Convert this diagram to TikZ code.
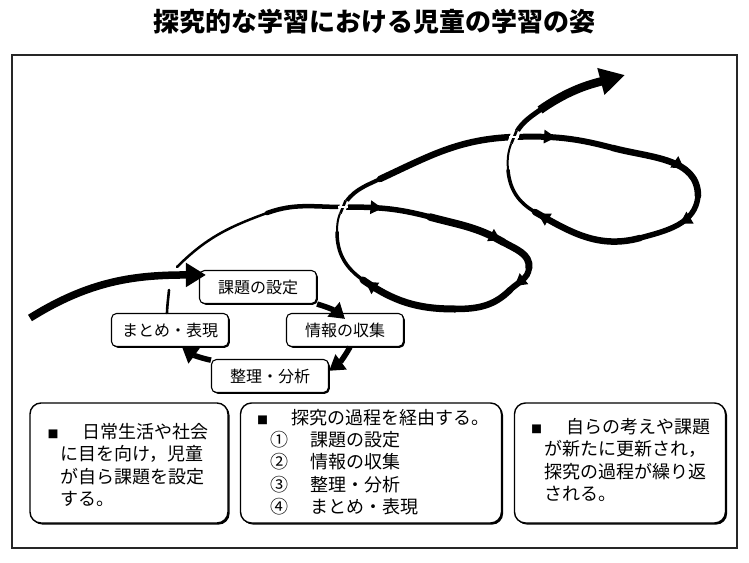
\documentclass[tikz,border=0pt]{standalone}
\usepackage{fontspec}
\setmainfont{Noto Sans CJK JP}
\usetikzlibrary{arrows.meta,decorations.markings,shadows}

\tikzset{
  cyclebox/.style={draw, fill=white, rounded corners=5pt, line width=1.1pt,
    minimum width=117pt, minimum height=33pt, inner sep=0pt,
    font=\fontsize{16}{16}\selectfont,
    drop shadow={shadow xshift=1.3pt, shadow yshift=-1.3pt, fill=black, opacity=1}},
  infobox/.style={draw, fill=white, rounded corners=11pt, line width=1.4pt,
    minimum height=120pt, inner sep=0pt,
    drop shadow={shadow xshift=1.6pt, shadow yshift=-1.6pt, fill=black, opacity=1}},
  infotext/.style={anchor=west, align=left, inner sep=0pt,
    font=\fontsize{18}{22.3}\selectfont},
  cyclearrow/.style={line width=5.5pt, -{Triangle[length=15pt,width=18pt]}},
  loopline/.style={line cap=round},
  barb/.style={postaction={decorate, decoration={markings,
    mark=at position #1 with {\arrow{Triangle[length=12pt,width=13pt]}}}}},
}
\newcommand{\boxmark}{\llap{{\fontsize{11}{11}\selectfont ■}\hspace{2pt}}}

\begin{document}
\begin{tikzpicture}[x=1pt,y=-1pt]
\useasboundingbox (0,0) rectangle (749,562);
\node[font=\fontsize{26}{26}\selectfont\bfseries] (title) at (374,22) {探究的な学習における児童の学習の姿};
\draw[line width=1.6pt, black!85] (12,55) rectangle (737,548);

% spiral
\coordinate (c1) at (343,207);
\coordinate (c2) at (514,137);
\draw[loopline, line width=2.5pt] (177,267) to[out=45,in=-160] (267,213);
\draw[loopline, line width=4.5pt] (267,213) to[out=20,in=180] (c1);
\draw[loopline, line width=5.5pt, barb=0.45] (c1) to[out=0,in=165] (430,217);
\draw[loopline, line width=7.5pt, barb=0.97] (430,217) to[out=-15,in=150] (503,242);
\draw[loopline, line width=7pt] (503,242) to[out=-30,in=85] (529,268);
\draw[loopline, line width=6pt, barb=0.8] (529,268) to[out=-95,in=45] (510,290);
\draw[loopline, line width=6.5pt] (510,290) to[out=-135,in=0] (455,309);
\draw[loopline, line width=7pt, barb=0.97] (455,309) to[out=180,in=-35] (363,280);
\draw[loopline, line width=3.5pt] (363,280) to[out=145,in=-90] (337,232);
\draw[loopline, line width=2pt] (337,232) to[out=90,in=-118] (c1);
\draw[loopline, line width=4pt] (c1) to[out=62,in=-155] (380,179);
\draw[loopline, line width=6.5pt] (380,179) to[out=25,in=-178] (c2);
\draw[loopline, line width=6pt, barb=0.42] (c2) to[out=2,in=165] (613,148);
\draw[loopline, line width=6.5pt, barb=0.7] (613,148) to[out=-15,in=90] (698,196);
\draw[loopline, line width=5.5pt, barb=0.45] (698,196) to[out=-95,in=15] (640,238);
\draw[loopline, line width=6.5pt, barb=0.97] (640,238) to[out=-165,in=-30] (535,212);
\draw[loopline, line width=3.5pt] (535,212) to[out=150,in=-85] (508,170);
\draw[loopline, line width=2pt] (508,170) to[out=95,in=-115] (c2);
\draw[loopline, line width=5pt] (c2) to[out=65,in=-145] (540,110);
\draw[line width=8.5pt, -{Triangle[length=25pt,width=26pt]}] (540,110) to[out=35,in=-165] (625,75);
% crossings
\draw[white, line width=7.5pt] ([shift={(-2.6,6.5)}]c1) -- ([shift={(2.6,-6.5)}]c1);
\draw[line width=2.6pt] ([shift={(-2.6,6.5)}]c1) -- ([shift={(2.6,-6.5)}]c1);
\draw[white, line width=1.2pt] ([shift={(-5,0)}]c1) -- ([shift={(5,0)}]c1);
\draw[white, line width=8.5pt] ([shift={(-2.6,6.5)}]c2) -- ([shift={(2.6,-6.5)}]c2);
\draw[line width=2.6pt] ([shift={(-2.6,6.5)}]c2) -- ([shift={(2.6,-6.5)}]c2);
\draw[white, line width=1.2pt] ([shift={(-5,0)}]c2) -- ([shift={(5,0)}]c2);

% cycle
\node[cyclebox] (kadai) at (258,287) {課題の設定};
\node[cyclebox] (joho) at (345,330) {情報の収集};
\node[cyclebox] (seiri) at (270,376) {整理・分析};
\node[cyclebox] (matome) at (170,330) {まとめ・表現};
\draw[cyclearrow] (kadai.south east) to[bend left=12] ([yshift=-6pt]joho.north);
\draw[cyclearrow] ([xshift=5pt]joho.south) to[bend left=12] (seiri.5);
\draw[cyclearrow] (seiri.165) to[bend left=12] ([xshift=12pt]matome.south);
\coordinate (lift) at (169,290);
\draw[line width=2.6pt, line cap=round] ([xshift=-3pt]matome.north) to[out=88,in=-95] (lift);
\coordinate (entry) at (30,318);
\draw[line width=7.5pt, -{Triangle[length=20pt,width=23pt]}] (entry) to[out=32,in=180] ([xshift=7pt,yshift=-5pt]kadai.north west);

% notes
\node[infobox, minimum width=198pt] (note1) at (129,463) {};
\node[infobox, minimum width=261pt] (note2) at (371,463) {};
\node[infobox, minimum width=211pt] (note3) at (620,463) {};
\node[infotext] (text1) at ([xshift=31pt,yshift=-2pt]note1.west)
  {\boxmark\hspace*{22pt}日常生活や社会\\に目を向け，児童\\が自ら課題を設定\\する。};
\node[infotext] (text2) at ([xshift=30pt,yshift=1pt]note2.west)
  {\boxmark\hspace*{21pt}探究の過程を経由する。\\①\hspace*{22pt}課題の設定\\②\hspace*{22pt}情報の収集\\③\hspace*{22pt}整理・分析\\④\hspace*{22pt}まとめ・表現};
\node[infotext] (text3) at ([xshift=30pt,yshift=3pt]note3.west)
  {\boxmark\hspace*{22pt}自らの考えや課題\\が新たに更新され，\\探究の過程が繰り返\\される。};
\end{tikzpicture}
\end{document}
